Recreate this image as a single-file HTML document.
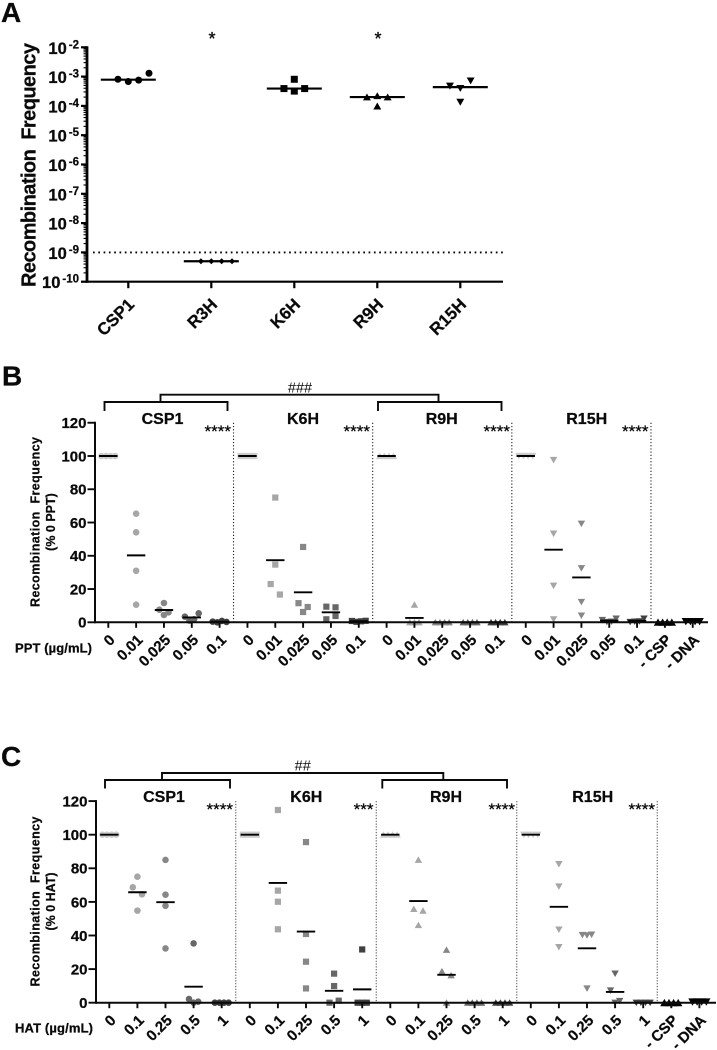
<!DOCTYPE html>
<html lang="en">
<head>
<meta charset="utf-8">
<title>Recombination frequency panels</title>
<style>
  html, body { margin: 0; padding: 0; background: #fff; }
  body { width: 717px; height: 1050px; overflow: hidden; }
  svg { display: block; font-family: "Liberation Sans", Arial, sans-serif; }
  text { fill: #0a0a0a; }
  .bold, text[font-weight="bold"] { font-weight: bold; stroke: #0a0a0a; stroke-width: 0.25; }
</style>
</head>
<body>
<svg id="figure" xmlns="http://www.w3.org/2000/svg" width="717" height="1050" viewBox="0 0 717 1050">
  <rect x="0" y="0" width="717" height="1050" fill="#fff"/>

  <text class="bold" x="1" y="22" font-size="28">A</text>
  <text class="bold" x="2" y="385.5" font-size="28">B</text>
  <text class="bold" x="1" y="766" font-size="28">C</text>

  <text class="bold" transform="translate(35.5 165) rotate(-90)" text-anchor="middle" font-size="20" textLength="244">Recombination&#160;&#160;Frequency</text>
  <text x="212" y="45" text-anchor="middle" font-size="18" stroke="#0a0a0a" stroke-width="0.3">*</text>
  <text x="378" y="45" text-anchor="middle" font-size="18" stroke="#0a0a0a" stroke-width="0.3">*</text>

  <path d="M104.5 411V402H227.5V411M378 411V402H501.5V411M160.5 402V394.7H438.5V402" fill="none" stroke="#0a0a0a" stroke-width="1.9"/>
  <text x="300" y="392.5" text-anchor="middle" font-size="14.5">###</text>
  <text class="bold" x="162.5" y="424" text-anchor="middle" font-size="16">CSP1</text>
  <text class="bold" x="303" y="424" text-anchor="middle" font-size="16">K6H</text>
  <text class="bold" x="441.7" y="424" text-anchor="middle" font-size="16">R9H</text>
  <text class="bold" x="586.7" y="424" text-anchor="middle" font-size="16">R15H</text>
  <text x="231" y="437" text-anchor="end" font-size="17" stroke="#0a0a0a" stroke-width="0.25">****</text>
  <text x="370" y="437" text-anchor="end" font-size="17" stroke="#0a0a0a" stroke-width="0.25">****</text>
  <text x="510" y="437" text-anchor="end" font-size="17" stroke="#0a0a0a" stroke-width="0.25">****</text>
  <text x="648.5" y="437" text-anchor="end" font-size="17" stroke="#0a0a0a" stroke-width="0.25">****</text>
  <text class="bold" transform="translate(39.3 522) rotate(-90)" text-anchor="middle" font-size="12.5" textLength="170">Recombination&#160;&#160;Frequency</text>
  <text class="bold" transform="translate(55 522) rotate(-90)" text-anchor="middle" font-size="12.5">(% 0 PPT)</text>
  <text class="bold" x="15" y="652.5" font-size="13" textLength="77">PPT (µg/mL)</text>

  <path d="M105 788.5V780H230V788.5M382.3 788.5V780H507V788.5M162 780V773H443.3V780" fill="none" stroke="#0a0a0a" stroke-width="1.9"/>
  <text x="302.7" y="770.5" text-anchor="middle" font-size="14.5">##</text>
  <text class="bold" x="164" y="802" text-anchor="middle" font-size="16">CSP1</text>
  <text class="bold" x="306.3" y="802" text-anchor="middle" font-size="16">K6H</text>
  <text class="bold" x="446" y="802" text-anchor="middle" font-size="16">R9H</text>
  <text class="bold" x="592.7" y="802" text-anchor="middle" font-size="16">R15H</text>
  <text x="233" y="815" text-anchor="end" font-size="17" stroke="#0a0a0a" stroke-width="0.25">****</text>
  <text x="373.5" y="815" text-anchor="end" font-size="17" stroke="#0a0a0a" stroke-width="0.25">***</text>
  <text x="515" y="815" text-anchor="end" font-size="17" stroke="#0a0a0a" stroke-width="0.25">****</text>
  <text x="655" y="815" text-anchor="end" font-size="17" stroke="#0a0a0a" stroke-width="0.25">****</text>
  <text class="bold" transform="translate(39.3 901.5) rotate(-90)" text-anchor="middle" font-size="12.5" textLength="170">Recombination&#160;&#160;Frequency</text>
  <text class="bold" transform="translate(55 901.5) rotate(-90)" text-anchor="middle" font-size="12.5">(% 0 HAT)</text>
  <text class="bold" x="15" y="1032.5" font-size="13" textLength="78">HAT (µg/mL)</text>
</svg>

<script>
// ---------- Panel A data ----------
const panelACategories = ['CSP1', 'R3H', 'K6H', 'R9H', 'R15H'];
const panelAExponents = [-2, -3, -4, -5, -6, -7, -8, -9, -10];
const panelADetectionLimit = 1e-9;
const panelACsp1 = [6.8e-4, 7.6e-4, 8.1e-4, 1.3e-3];
const panelAR3h = [5e-10, 5e-10, 5e-10, 5e-10];
const panelAK6h = [3.2e-4, 3.9e-4, 3.9e-4, 8.1e-4];
const panelAR9h = [2.2e-4, 2.0e-4, 2.0e-4, 9.8e-5];
const panelAR15h = [4.0e-4, 7.2e-4, 4.8e-4, 1.35e-4];

// ---------- Panel B data (% of 0 PPT) ----------
const panelBTicks = [0, 20, 40, 60, 80, 100, 120];
const panelBDoses = ['0', '0.01', '0.025', '0.05', '0.1'];
const panelBControlLabels = ['- CSP', '- DNA'];
const panelBCsp1 = [
  [100, 100, 100, 100],
  [65.3, 54.1, 31, 10.6],
  [11.6, 7.6, 4.4, 6],
  [3.4, 1, 1.8, 5.4],
  [0.4, 0, 0.8, 0.2]
];
const panelBK6h = [
  [100, 100, 100, 100],
  [75, 34.7, 23, 16.7],
  [45.3, 6.2, 11.5, 9.2],
  [9.4, 9, 1.8, 3.8],
  [0.8, 0.3, 0.6, 0.9]
];
const panelBR9h = [
  [100, 100, 100, 100],
  [10.6, 0, 0, 0],
  [0, 0, 0, 0],
  [0, 0, 0, 0],
  [0, 0, 0, 0]
];
const panelBR15h = [
  [100, 100, 100, 100],
  [97.6, 53.3, 22, 1.8],
  [59.3, 32.5, 12.2, 4],
  [1.4, 0.2, 0.4, 2.2],
  [0.2, 0.4, 0.6, 2.2]
];
const panelBControlCsp = [0, 0, 0, 0];
const panelBControlDna = [0.5, 0.5, 0.5, 0.5];

// ---------- Panel C data (% of 0 HAT) ----------
const panelCTicks = [0, 20, 40, 60, 80, 100, 120];
const panelCDoses = ['0', '0.1', '0.25', '0.5', '1'];
const panelCControlLabels = ['- CSP', '- DNA'];
const panelCCsp1 = [
  [100, 100, 100, 100],
  [75, 68.7, 64.5, 54.8],
  [85, 64.3, 57.7, 32.3],
  [35.3, 2.2, 0, 0.6],
  [0, 0, 0, 0]
];
const panelCK6h = [
  [100, 100, 100, 100],
  [114.7, 66.7, 60.1, 43.7],
  [95.6, 40.9, 24.4, 8.5],
  [17.3, 9.9, 0, 1.2],
  [31.7, 0, 0, 0]
];
const panelCR9h = [
  [100, 100, 100, 100],
  [85.1, 55.8, 54.8, 46.2],
  [31.5, 18.7, 16.3, 0],
  [0, 0, 0, 0],
  [0, 0, 0, 0]
];
const panelCR15h = [
  [100, 100, 100, 100],
  [82.5, 69.2, 43.5, 33.1],
  [40.3, 40.1, 40.5, 8.5],
  [17.3, 7.3, 0, 1],
  [0, 0, 0, 0]
];
const panelCControlCsp = [0, 0, 0, 0];
const panelCControlDna = [0.5, 0.5, 0.5, 0.5];

// ---------- Drawing ----------
const NS = 'http://www.w3.org/2000/svg';
const root = document.getElementById('figure');

function svgEl(tag, attrs) {
  const el = document.createElementNS(NS, tag);
  for (const k in attrs) el.setAttribute(k, attrs[k]);
  return el;
}

function mean(values) {
  return values.reduce(function (a, b) { return a + b; }, 0) / values.length;
}

function median(values) {
  const s = values.slice().sort(function (a, b) { return a - b; });
  const n = s.length;
  return n % 2 ? s[(n - 1) / 2] : Math.sqrt(s[n / 2 - 1] * s[n / 2]);
}

function markerEl(shape, x, y, size, fill) {
  const s = size / 2;
  if (shape === 'circle') return svgEl('circle', { cx: x, cy: y, r: s * 1.06, fill: fill });
  if (shape === 'square') return svgEl('rect', { x: x - s, y: y - s, width: size, height: size, fill: fill });
  let pts;
  if (shape === 'up') pts = [[x, y - s * 1.1], [x + s * 1.2, y + s], [x - s * 1.2, y + s]];
  else if (shape === 'down') pts = [[x - s * 1.2, y - s], [x + s * 1.2, y - s], [x, y + s * 1.1]];
  else pts = [[x, y - s], [x + s, y], [x, y + s], [x - s, y]];
  return svgEl('polygon', { points: pts.map(function (p) { return p.join(','); }).join(' '), fill: fill });
}

// Nearest free slot, in reading order: used for the log panel.
function collisionOffsets(pixelYs, slot, minGap) {
  const order = [0, 1, -1, 2, -2, 3, -3];
  const placed = [];
  return pixelYs.map(function (py) {
    for (let i = 0; i < order.length; i++) {
      const clash = placed.some(function (p) { return p.slot === order[i] && Math.abs(p.y - py) < minGap; });
      if (!clash) {
        placed.push({ slot: order[i], y: py });
        return order[i] * slot;
      }
    }
    return 0;
  });
}

// Values sharing a bin are laid side by side around the category centre.
function binOffsets(values, binWidth, slot) {
  const bins = {};
  values.forEach(function (v, i) {
    const b = Math.floor(v / binWidth);
    (bins[b] = bins[b] || []).push(i);
  });
  const out = values.map(function () { return 0; });
  Object.keys(bins).forEach(function (b) {
    const ids = bins[b];
    const n = ids.length;
    ids.forEach(function (id, i) {
      out[id] = n === 2 ? (i === 0 ? -slot : slot) : (i - (n - 1) / 2) * slot;
    });
  });
  return out;
}

// ---------- Panel A ----------
(function drawPanelA() {
  const axisX = 87, axisEnd = 503, topY = 47.3, decadePx = 29.3, baseY = 281.7;
  const xA = function (i) { return 128.3 + 83 * i; };
  const yA = function (v) { return topY + (panelAExponents[0] - Math.log10(v)) * decadePx; };
  const series = [panelACsp1, panelAR3h, panelAK6h, panelAR9h, panelAR15h];
  const shapes = ['circle', 'diamond', 'square', 'up', 'down'];
  const sizes = [6.6, 6, 7, 6.6, 6.6];

  const limit = svgEl('line', { x1: 93, x2: axisEnd, y1: yA(panelADetectionLimit), y2: yA(panelADetectionLimit), stroke: '#000', 'stroke-width': 1.9, 'stroke-dasharray': '1.7 3.6' });
  
  
  root.appendChild(limit);

  series.forEach(function (values, s) {
    const offs = collisionOffsets(values.map(yA), 10.35, 9);
    values.forEach(function (v, i) {
      const m = markerEl(shapes[s], xA(s) + offs[i], yA(v), sizes[s], '#000');
      
      
      root.appendChild(m);
    });
    const my = yA(median(values));
    const ml = svgEl('line', { x1: xA(s) - 27.5, x2: xA(s) + 27.5, y1: my, y2: my, stroke: '#000', 'stroke-width': 2.2 });
    
    
    root.appendChild(ml);
  });

  const yAxis = svgEl('line', { x1: axisX, x2: axisX, y1: topY - 1, y2: baseY + 1, stroke: '#000', 'stroke-width': 2.8 });
  
  
  root.appendChild(yAxis);
  const xAxis = svgEl('line', { x1: axisX - 1, x2: axisEnd, y1: baseY, y2: baseY, stroke: '#000', 'stroke-width': 2.2 });
  
  
  root.appendChild(xAxis);

  panelAExponents.forEach(function (e) {
    const ty = yA(Math.pow(10, e));
    const tick = svgEl('line', { x1: axisX - 6, x2: axisX, y1: ty, y2: ty, stroke: '#000', 'stroke-width': 2.2 });
    
    
    root.appendChild(tick);
    if (e > panelAExponents[panelAExponents.length - 1]) {
      for (let m = 2; m < 10; m++) {
        const my = yA(m * Math.pow(10, e - 1));
        const minor = svgEl('line', { x1: axisX - 3.5, x2: axisX, y1: my, y2: my, stroke: '#000', 'stroke-width': 1.1 });
        
        
        root.appendChild(minor);
      }
    }
    const lab = svgEl('text', { x: 79, y: ty + 6.5, 'text-anchor': 'end', 'font-size': 16.5, 'font-weight': 'bold' });
    
    
    const base = svgEl('tspan', {});
    base.textContent = '10';
    const sup = svgEl('tspan', { dx: 2, dy: -5.5, 'font-size': 11.5 });
    sup.textContent = String(e);
    lab.appendChild(base);
    lab.appendChild(sup);
    root.appendChild(lab);
  });

  panelACategories.forEach(function (c, i) {
    const tick = svgEl('line', { x1: xA(i), x2: xA(i), y1: baseY, y2: baseY + 6.5, stroke: '#000', 'stroke-width': 2.2 });
    
    
    root.appendChild(tick);
    const ax = xA(i) + 7, ay = 305.5;
    const lab = svgEl('text', { x: ax, y: ay, 'text-anchor': 'end', 'font-size': 17, 'font-weight': 'bold', transform: 'rotate(-45 ' + ax + ' ' + ay + ')' });
    
    
    lab.textContent = c;
    root.appendChild(lab);
  });
})();

// ---------- Panels B and C ----------
function doseShade(i) {
  return ['#cccccc', '#a6a6a6', '#878787', '#676767', '#404040'][i];
}

function drawDosePanel(cfg) {
  const shapes = ['circle', 'square', 'up', 'down'];
  const xP = function (i) { return cfg.x0 + cfg.step * i; };
  const yP = function (v) { return cfg.y0 - cfg.unit * v; };

  cfg.groups.forEach(function (group, g) {
    const sep = svgEl('line', { x1: xP(5 * g + 4.5), x2: xP(5 * g + 4.5), y1: yP(120), y2: yP(0), stroke: cfg.sepColor, 'stroke-width': 1.1, 'stroke-dasharray': cfg.sepDash });
    
    
    root.appendChild(sep);

    group.forEach(function (values, d) {
      const idx = 5 * g + d;
      const offs = binOffsets(values, 8, 4.6);
      values.forEach(function (v, i) {
        const m = markerEl(shapes[g], xP(idx) + offs[i], yP(v), 6.2, doseShade(d));
        
        
        root.appendChild(m);
      });
      const my = yP(mean(values));
      const ml = svgEl('line', { x1: xP(idx) - 9.2, x2: xP(idx) + 9.2, y1: my, y2: my, stroke: '#000', 'stroke-width': 1.9 });
      
      
      root.appendChild(ml);
    });
  });

  cfg.controls.forEach(function (values, c) {
    const idx = 20 + c;
    const offs = binOffsets(values, 8, 4.6);
    values.forEach(function (v, i) {
      const m = markerEl(shapes[2 + c], xP(idx) + offs[i], yP(v), 7, '#000');
      
      
      root.appendChild(m);
    });
    const my = yP(mean(values));
    const ml = svgEl('line', { x1: xP(idx) - 9.2, x2: xP(idx) + 9.2, y1: my, y2: my, stroke: '#000', 'stroke-width': 1.9 });
    
    
    root.appendChild(ml);
  });

  const yAxis = svgEl('line', { x1: cfg.axisX, x2: cfg.axisX, y1: yP(120) - 1, y2: yP(0) + 1, stroke: '#0a0a0a', 'stroke-width': 2 });
  
  
  root.appendChild(yAxis);
  const xAxis = svgEl('line', { x1: cfg.axisX, x2: cfg.axisEnd, y1: yP(0), y2: yP(0), stroke: '#0a0a0a', 'stroke-width': 2 });
  
  
  root.appendChild(xAxis);

  cfg.ticks.forEach(function (t) {
    const tick = svgEl('line', { x1: cfg.axisX - 7.5, x2: cfg.axisX, y1: yP(t), y2: yP(t), stroke: '#0a0a0a', 'stroke-width': 1.9 });
    
    
    root.appendChild(tick);
    const lab = svgEl('text', { x: cfg.axisX - 8.5, y: yP(t) + 5.4, 'text-anchor': 'end', 'font-size': 15, 'font-weight': 'bold' });
    
    
    lab.textContent = String(t);
    root.appendChild(lab);
  });

  const labels = [];
  cfg.groups.forEach(function () { cfg.doses.forEach(function (d) { labels.push(d); }); });
  cfg.controlLabels.forEach(function (c) { labels.push(c); });
  labels.forEach(function (text, i) {
    const tick = svgEl('line', { x1: xP(i), x2: xP(i), y1: yP(0), y2: yP(0) + 5.5, stroke: '#0a0a0a', 'stroke-width': 1.9 });
    
    
    root.appendChild(tick);
    const ax = xP(i) + 7.5, ay = yP(0) + 18.5;
    const lab = svgEl('text', { x: ax, y: ay, 'text-anchor': 'end', 'font-size': 15, 'font-weight': 'bold', transform: 'rotate(-45 ' + ax + ' ' + ay + ')' });
    
    
    lab.textContent = text;
    root.appendChild(lab);
  });
}

drawDosePanel({
  x0: 108.3, step: 27.83, y0: 622.3, unit: 1.663, axisX: 95, axisEnd: 708,
  sepColor: '#222', sepDash: '1.2 2',
  ticks: panelBTicks, doses: panelBDoses, controlLabels: panelBControlLabels,
  groups: [panelBCsp1, panelBK6h, panelBR9h, panelBR15h],
  controls: [panelBControlCsp, panelBControlDna]
});

drawDosePanel({
  x0: 109.3, step: 28.1, y0: 1002.7, unit: 1.68, axisX: 96, axisEnd: 716,
  sepColor: '#555', sepDash: '1.2 1.6',
  ticks: panelCTicks, doses: panelCDoses, controlLabels: panelCControlLabels,
  groups: [panelCCsp1, panelCK6h, panelCR9h, panelCR15h],
  controls: [panelCControlCsp, panelCControlDna]
});
</script>
</body>
</html>
